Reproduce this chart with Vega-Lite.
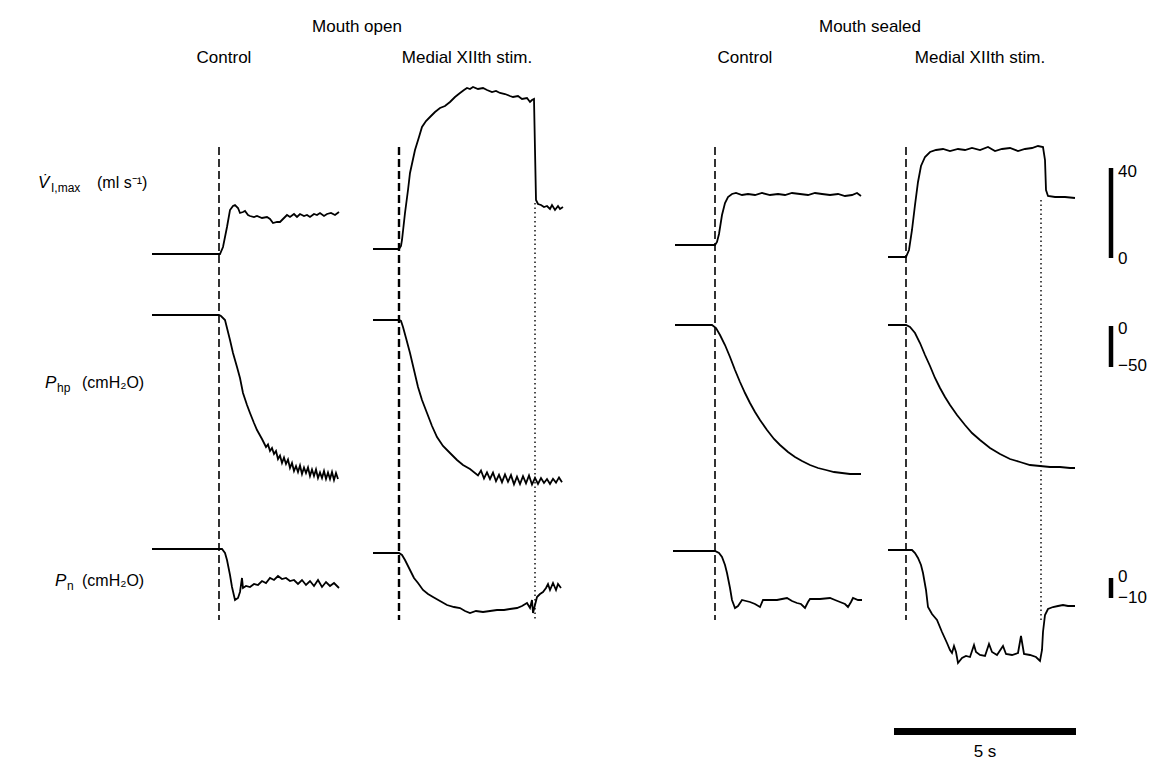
{
"$schema": "https://vega.github.io/schema/vega-lite/v6.json",
"padding": 0,
"spacing": 0,
"bounds": "flush",
"config": {"view": {"stroke": null}, "font": "Liberation Sans", "text": {"font": "Liberation Sans", "fontSize": 16, "color": "black", "fill": "black"}},
"resolve": {"scale": {"x": "independent", "y": "independent"}},
"datasets": {
"c1_flow": [{"t":-1.8407,"value":1.778},{"t":-1.2088,"value":1.778},{"t":-0.522,"value":1.778},{"t":0,"value":1.778},{"t":0.0275,"value":1.778},{"t":0.1099,"value":4.889},{"t":0.2198,"value":13.778},{"t":0.3022,"value":21.333},{"t":0.3846,"value":23.111},{"t":0.4396,"value":23.556},{"t":0.522,"value":22.222},{"t":0.5769,"value":20.0},{"t":0.6593,"value":20.444},{"t":0.7143,"value":20.889},{"t":0.7967,"value":19.111},{"t":0.8516,"value":18.667},{"t":0.9615,"value":18.222},{"t":1.044,"value":18.667},{"t":1.1813,"value":17.778},{"t":1.3187,"value":18.222},{"t":1.4011,"value":17.333},{"t":1.4835,"value":15.556},{"t":1.5934,"value":16.0},{"t":1.6758,"value":16.0},{"t":1.7857,"value":17.778},{"t":1.8681,"value":19.111},{"t":1.9505,"value":18.222},{"t":2.0604,"value":19.556},{"t":2.1429,"value":18.222},{"t":2.2253,"value":19.556},{"t":2.3352,"value":18.667},{"t":2.4176,"value":19.111},{"t":2.5,"value":18.222},{"t":2.6099,"value":19.556},{"t":2.6923,"value":19.111},{"t":2.7747,"value":20.0},{"t":2.8846,"value":18.667},{"t":2.967,"value":19.556},{"t":3.0769,"value":20.0},{"t":3.1868,"value":19.111},{"t":3.2967,"value":20.444}],
"c1_php": [{"t":-1.8407,"value":13.415},{"t":0,"value":13.415},{"t":0.0549,"value":12.195},{"t":0.1648,"value":7.317},{"t":0.3022,"value":-17.073},{"t":0.3846,"value":-32.927},{"t":0.4945,"value":-50.0},{"t":0.5769,"value":-63.415},{"t":0.6593,"value":-81.707},{"t":0.7692,"value":-96.341},{"t":0.8516,"value":-106.098},{"t":0.9615,"value":-118.293},{"t":1.044,"value":-126.829},{"t":1.1813,"value":-137.805},{"t":1.2912,"value":-147.561},{"t":1.3462,"value":-144.512},{"t":1.4011,"value":-152.439},{"t":1.456,"value":-148.78},{"t":1.511,"value":-156.098},{"t":1.5659,"value":-152.439},{"t":1.6209,"value":-162.195},{"t":1.6758,"value":-157.927},{"t":1.7308,"value":-167.073},{"t":1.7857,"value":-160.366},{"t":1.8407,"value":-168.293},{"t":1.8956,"value":-162.805},{"t":1.9505,"value":-173.171},{"t":2.0055,"value":-167.073},{"t":2.0604,"value":-176.829},{"t":2.1154,"value":-170.732},{"t":2.1703,"value":-178.049},{"t":2.2253,"value":-170.122},{"t":2.2802,"value":-180.488},{"t":2.3352,"value":-172.561},{"t":2.3901,"value":-179.268},{"t":2.4451,"value":-172.561},{"t":2.5,"value":-182.927},{"t":2.5549,"value":-175.0},{"t":2.6099,"value":-182.927},{"t":2.6648,"value":-175.0},{"t":2.7198,"value":-185.366},{"t":2.7747,"value":-178.659},{"t":2.8297,"value":-185.366},{"t":2.8846,"value":-176.829},{"t":2.9396,"value":-186.585},{"t":2.9945,"value":-178.659},{"t":3.0495,"value":-186.585},{"t":3.1044,"value":-178.049},{"t":3.1593,"value":-187.805},{"t":3.2143,"value":-179.268},{"t":3.2692,"value":-186.585}],
"c1_pn": [{"t":-1.8407,"value":14.5},{"t":0,"value":14.5},{"t":0.0824,"value":14.5},{"t":0.1648,"value":12.5},{"t":0.2198,"value":9},{"t":0.3022,"value":1.5},{"t":0.3571,"value":-4.5},{"t":0.4396,"value":-11},{"t":0.522,"value":-10},{"t":0.5769,"value":-7},{"t":0.6319,"value":0},{"t":0.6593,"value":-5},{"t":0.7418,"value":-4},{"t":0.8516,"value":-4.5},{"t":0.9615,"value":-3},{"t":1.0714,"value":-3.5},{"t":1.1813,"value":-1.5},{"t":1.2912,"value":-2.5},{"t":1.4011,"value":0},{"t":1.511,"value":-1},{"t":1.6209,"value":1},{"t":1.7308,"value":-0.5},{"t":1.8407,"value":0},{"t":1.9505,"value":-1.5},{"t":2.0604,"value":-1},{"t":2.1703,"value":-3},{"t":2.2802,"value":-1},{"t":2.3901,"value":-3.5},{"t":2.5,"value":-1.5},{"t":2.6099,"value":-4},{"t":2.7198,"value":-1},{"t":2.8297,"value":-4.5},{"t":2.9396,"value":-2},{"t":3.0495,"value":-4},{"t":3.1593,"value":-2.5},{"t":3.2967,"value":-5}],
"c2_flow": [{"t":-0.7143,"value":4.0},{"t":-0.3846,"value":4.0},{"t":0,"value":4.0},{"t":0.0549,"value":5.333},{"t":0.0824,"value":8.0},{"t":0.1648,"value":20.0},{"t":0.2473,"value":30.222},{"t":0.3022,"value":37.778},{"t":0.4396,"value":48.0},{"t":0.5495,"value":53.778},{"t":0.6319,"value":58.222},{"t":0.7418,"value":60.889},{"t":0.8516,"value":62.667},{"t":0.989,"value":64.889},{"t":1.1264,"value":66.667},{"t":1.2637,"value":67.556},{"t":1.4011,"value":69.333},{"t":1.5385,"value":71.556},{"t":1.6758,"value":73.333},{"t":1.7857,"value":74.667},{"t":1.8681,"value":75.556},{"t":1.9505,"value":75.111},{"t":2.033,"value":76.0},{"t":2.1703,"value":75.111},{"t":2.3077,"value":75.556},{"t":2.4176,"value":74.667},{"t":2.5549,"value":73.778},{"t":2.6648,"value":74.222},{"t":2.7747,"value":73.333},{"t":2.9121,"value":72.889},{"t":3.0495,"value":72.0},{"t":3.1319,"value":71.556},{"t":3.2692,"value":72.0},{"t":3.3791,"value":70.667},{"t":3.5165,"value":71.111},{"t":3.5989,"value":69.333},{"t":3.6538,"value":70.222},{"t":3.7088,"value":70.667},{"t":3.7363,"value":48.0},{"t":3.7637,"value":25.778},{"t":3.8187,"value":24.0},{"t":3.9011,"value":23.556},{"t":3.9835,"value":22.667},{"t":4.0659,"value":23.111},{"t":4.1484,"value":21.778},{"t":4.2033,"value":23.556},{"t":4.2857,"value":21.333},{"t":4.3681,"value":23.111},{"t":4.4231,"value":21.778},{"t":4.5055,"value":22.667}],
"c2_php": [{"t":-0.7143,"value":7.317},{"t":0,"value":7.317},{"t":0.0549,"value":6.098},{"t":0.1099,"value":-1.22},{"t":0.1923,"value":-14.634},{"t":0.3022,"value":-32.927},{"t":0.4121,"value":-53.659},{"t":0.522,"value":-74.39},{"t":0.6319,"value":-90.244},{"t":0.7692,"value":-106.098},{"t":0.9066,"value":-121.951},{"t":1.044,"value":-135.366},{"t":1.2088,"value":-146.341},{"t":1.4011,"value":-154.878},{"t":1.5934,"value":-163.415},{"t":1.7582,"value":-169.512},{"t":1.9505,"value":-174.39},{"t":2.1703,"value":-182.317},{"t":2.2527,"value":-176.22},{"t":2.3352,"value":-185.976},{"t":2.4176,"value":-178.415},{"t":2.5,"value":-186.585},{"t":2.5824,"value":-178.78},{"t":2.6648,"value":-189.268},{"t":2.7473,"value":-181.463},{"t":2.8297,"value":-190.488},{"t":2.9121,"value":-181.098},{"t":2.9945,"value":-190.0},{"t":3.0769,"value":-181.829},{"t":3.1593,"value":-193.171},{"t":3.2418,"value":-183.78},{"t":3.3242,"value":-192.683},{"t":3.4066,"value":-183.171},{"t":3.489,"value":-191.829},{"t":3.5714,"value":-182.317},{"t":3.6538,"value":-193.415},{"t":3.7363,"value":-185.122},{"t":3.8187,"value":-192.683},{"t":3.9011,"value":-185.366},{"t":3.9835,"value":-191.463},{"t":4.0659,"value":-186.585},{"t":4.1484,"value":-192.683},{"t":4.2308,"value":-186.341},{"t":4.3132,"value":-190.976},{"t":4.3956,"value":-184.634},{"t":4.478,"value":-190.488}],
"c2_pn": [{"t":-0.7143,"value":12.5},{"t":0,"value":12.5},{"t":0.0824,"value":11.5},{"t":0.1648,"value":9},{"t":0.2473,"value":6},{"t":0.3297,"value":3},{"t":0.4121,"value":0},{"t":0.522,"value":-2.5},{"t":0.6593,"value":-6},{"t":0.7967,"value":-8},{"t":0.9341,"value":-9.5},{"t":1.1264,"value":-11.5},{"t":1.3187,"value":-13.5},{"t":1.511,"value":-14.5},{"t":1.6758,"value":-15},{"t":1.8132,"value":-16.5},{"t":1.9505,"value":-17.5},{"t":2.1154,"value":-16.5},{"t":2.3077,"value":-17},{"t":2.5,"value":-16.5},{"t":2.6923,"value":-16},{"t":2.8846,"value":-16},{"t":3.0495,"value":-15.5},{"t":3.2418,"value":-15},{"t":3.3791,"value":-14},{"t":3.5165,"value":-12.5},{"t":3.5989,"value":-15},{"t":3.6538,"value":-11},{"t":3.6813,"value":-17.5},{"t":3.7363,"value":-13.5},{"t":3.7912,"value":-9.5},{"t":3.8736,"value":-8},{"t":3.956,"value":-7},{"t":4.0385,"value":-5},{"t":4.0934,"value":-3},{"t":4.1484,"value":-6},{"t":4.2308,"value":-2.5},{"t":4.3132,"value":-6},{"t":4.3681,"value":-3},{"t":4.4505,"value":-5}],
"c3_flow": [{"t":-1.0989,"value":5.778},{"t":-0.4121,"value":5.778},{"t":0,"value":5.778},{"t":0.0549,"value":7.111},{"t":0.1099,"value":10.667},{"t":0.1923,"value":19.111},{"t":0.2747,"value":24.444},{"t":0.3571,"value":27.111},{"t":0.467,"value":28.444},{"t":0.5769,"value":28.889},{"t":0.7418,"value":28.0},{"t":0.9066,"value":28.444},{"t":1.0989,"value":28.0},{"t":1.2912,"value":28.889},{"t":1.511,"value":28.0},{"t":1.7308,"value":28.444},{"t":1.9231,"value":28.0},{"t":2.1154,"value":28.889},{"t":2.3352,"value":28.444},{"t":2.5549,"value":28.0},{"t":2.7473,"value":28.889},{"t":2.9396,"value":28.444},{"t":3.1593,"value":28.0},{"t":3.3791,"value":28.444},{"t":3.5714,"value":27.556},{"t":3.7637,"value":28.0},{"t":3.9011,"value":28.889},{"t":4.011,"value":27.556}],
"c3_php": [{"t":-1.0989,"value":1.22},{"t":-0.0824,"value":1.22},{"t":0.0275,"value":-2.439},{"t":0.1374,"value":-10.976},{"t":0.2747,"value":-23.171},{"t":0.4121,"value":-37.805},{"t":0.5495,"value":-53.659},{"t":0.6868,"value":-68.293},{"t":0.8242,"value":-81.707},{"t":0.9615,"value":-93.902},{"t":1.0989,"value":-104.878},{"t":1.2363,"value":-114.634},{"t":1.4286,"value":-126.829},{"t":1.6209,"value":-137.805},{"t":1.7857,"value":-145.122},{"t":2.0055,"value":-153.659},{"t":2.1978,"value":-159.756},{"t":2.3901,"value":-164.634},{"t":2.6099,"value":-169.512},{"t":2.8297,"value":-173.171},{"t":3.0495,"value":-175.61},{"t":3.2692,"value":-178.049},{"t":3.489,"value":-179.268},{"t":3.7088,"value":-180.488},{"t":4.011,"value":-180.488}],
"c3_pn": [{"t":-1.1538,"value":13.5},{"t":-0.4121,"value":13.5},{"t":0,"value":13.5},{"t":0.1099,"value":12.5},{"t":0.1923,"value":10.5},{"t":0.2747,"value":6.5},{"t":0.3297,"value":2.5},{"t":0.4121,"value":-5},{"t":0.467,"value":-11},{"t":0.5495,"value":-15},{"t":0.6319,"value":-14},{"t":0.7418,"value":-11},{"t":0.8516,"value":-11.5},{"t":0.9615,"value":-12},{"t":1.0989,"value":-13},{"t":1.2363,"value":-14.5},{"t":1.3187,"value":-11},{"t":1.511,"value":-11},{"t":1.7033,"value":-11},{"t":1.8407,"value":-10.5},{"t":1.978,"value":-10},{"t":2.1154,"value":-11.5},{"t":2.2527,"value":-12.5},{"t":2.3626,"value":-13},{"t":2.4725,"value":-15},{"t":2.5549,"value":-12},{"t":2.6099,"value":-10.5},{"t":2.8846,"value":-10.5},{"t":3.1593,"value":-10},{"t":3.2967,"value":-11},{"t":3.4341,"value":-12},{"t":3.5714,"value":-13},{"t":3.6538,"value":-14.5},{"t":3.7363,"value":-12},{"t":3.7912,"value":-10},{"t":3.9286,"value":-11},{"t":4.0385,"value":-11}],
"c4_flow": [{"t":-0.4945,"value":0.444},{"t":-0.1648,"value":0.444},{"t":0,"value":0.444},{"t":0.0824,"value":3.556},{"t":0.1648,"value":12.444},{"t":0.2473,"value":23.556},{"t":0.3297,"value":33.778},{"t":0.4121,"value":40.889},{"t":0.522,"value":44.889},{"t":0.6593,"value":47.111},{"t":0.8242,"value":48.0},{"t":1.0165,"value":48.444},{"t":1.2088,"value":47.556},{"t":1.4286,"value":48.444},{"t":1.6209,"value":48.0},{"t":1.8132,"value":48.889},{"t":2.033,"value":48.0},{"t":2.2527,"value":49.333},{"t":2.4451,"value":47.556},{"t":2.6374,"value":48.444},{"t":2.8571,"value":48.889},{"t":3.0769,"value":47.556},{"t":3.2692,"value":48.444},{"t":3.4615,"value":48.889},{"t":3.6264,"value":49.778},{"t":3.7637,"value":49.333},{"t":3.8187,"value":43.556},{"t":3.8462,"value":30.222},{"t":3.9011,"value":27.556},{"t":4.0934,"value":27.111},{"t":4.3681,"value":27.111},{"t":4.6429,"value":26.667}],
"c4_php": [{"t":-0.4945,"value":1.22},{"t":0,"value":1.22},{"t":0.1099,"value":-1.22},{"t":0.2473,"value":-8.537},{"t":0.3846,"value":-20.732},{"t":0.522,"value":-35.366},{"t":0.6593,"value":-48.78},{"t":0.7967,"value":-63.415},{"t":0.9341,"value":-75.61},{"t":1.0714,"value":-86.585},{"t":1.2088,"value":-96.341},{"t":1.4011,"value":-108.537},{"t":1.6209,"value":-120.732},{"t":1.8132,"value":-130.488},{"t":2.033,"value":-139.024},{"t":2.3077,"value":-148.78},{"t":2.5824,"value":-156.098},{"t":2.8571,"value":-162.195},{"t":3.1319,"value":-165.854},{"t":3.4066,"value":-169.512},{"t":3.6813,"value":-170.732},{"t":3.956,"value":-171.951},{"t":4.2308,"value":-171.951},{"t":4.5055,"value":-173.171},{"t":4.6429,"value":-173.171}],
"c4_pn": [{"t":-0.4945,"value":14},{"t":0,"value":14},{"t":0.1648,"value":14},{"t":0.2473,"value":12.5},{"t":0.3297,"value":10},{"t":0.4121,"value":6.5},{"t":0.467,"value":2.5},{"t":0.5495,"value":-6},{"t":0.6044,"value":-14.5},{"t":0.7143,"value":-18},{"t":0.8516,"value":-21},{"t":0.989,"value":-27},{"t":1.1264,"value":-32.5},{"t":1.2088,"value":-36},{"t":1.2637,"value":-37.5},{"t":1.3187,"value":-34},{"t":1.3736,"value":-37},{"t":1.4286,"value":-42.5},{"t":1.5385,"value":-40},{"t":1.6484,"value":-39},{"t":1.7582,"value":-39.5},{"t":1.8681,"value":-33.5},{"t":1.9231,"value":-37},{"t":2.033,"value":-38.5},{"t":2.1703,"value":-39},{"t":2.2802,"value":-33},{"t":2.3626,"value":-37},{"t":2.5,"value":-38.5},{"t":2.6648,"value":-34},{"t":2.7473,"value":-38},{"t":2.9121,"value":-38.5},{"t":3.0769,"value":-37.5},{"t":3.1593,"value":-29},{"t":3.2418,"value":-38},{"t":3.4066,"value":-38.5},{"t":3.5714,"value":-39.5},{"t":3.6813,"value":-41.5},{"t":3.7363,"value":-36},{"t":3.7637,"value":-27},{"t":3.8187,"value":-18.5},{"t":3.9011,"value":-15.5},{"t":4.0385,"value":-14.5},{"t":4.1758,"value":-14},{"t":4.3132,"value":-13.5},{"t":4.4505,"value":-14},{"t":4.6429,"value":-14}]
},
"hconcat": [
{
"width": 365, "height": 762,
"resolve": {"scale": {"y": "independent"}},
"layer": [
{"data": {"name": "c1_flow"}, "mark": {"type": "line", "color": "black", "strokeWidth": 1.8}, "encoding": {"x": {"field": "t", "type": "quantitative", "scale": {"domain": [-6.01648, 4.01099], "nice": false, "zero": false}, "axis": null}, "y": {"field": "value", "type": "quantitative", "scale": {"domain": [-224, 114.6667], "nice": false, "zero": false}, "axis": null}}},
{"data": {"name": "c1_php"}, "mark": {"type": "line", "color": "black", "strokeWidth": 1.8}, "encoding": {"x": {"field": "t", "type": "quantitative", "scale": {"domain": [-6.01648, 4.01099], "nice": false, "zero": false}, "axis": null}, "y": {"field": "value", "type": "quantitative", "scale": {"domain": [-531.7073, 397.561], "nice": false, "zero": false}, "axis": null}}},
{"data": {"name": "c1_pn"}, "mark": {"type": "line", "color": "black", "strokeWidth": 1.8}, "encoding": {"x": {"field": "t", "type": "quantitative", "scale": {"domain": [-6.01648, 4.01099], "nice": false, "zero": false}, "axis": null}, "y": {"field": "value", "type": "quantitative", "scale": {"domain": [-92, 289], "nice": false, "zero": false}, "axis": null}}},
{"data": {"values": [{"event": "stimulation onset"}]}, "mark": {"type": "rule", "color": "black", "strokeWidth": 1.6, "strokeDash": [8, 4]}, "encoding": {"x": {"datum": 0, "type": "quantitative", "scale": {"domain": [-6.01648, 4.01099], "nice": false, "zero": false}, "axis": null}, "y": {"datum": 49.333, "type": "quantitative", "scale": {"domain": [-224, 114.6667], "nice": false, "zero": false}, "axis": null}, "y2": {"datum": -160.889}}},
{"data": {"values": [{"label": "Mouth open"}]}, "mark": {"type": "text", "align": "center", "baseline": "middle", "fontSize": 17, "color": "black"}, "encoding": {"x": {"datum": 3.7912, "type": "quantitative", "scale": {"domain": [-6.01648, 4.01099], "nice": false, "zero": false}, "axis": null}, "y": {"datum": 102.667, "type": "quantitative", "scale": {"domain": [-224, 114.6667], "nice": false, "zero": false}, "axis": null}, "text": {"field": "label"}}},
{"data": {"values": [{"label": "Control"}]}, "mark": {"type": "text", "align": "center", "baseline": "middle", "fontSize": 17, "color": "black"}, "encoding": {"x": {"datum": 0.1374, "type": "quantitative", "scale": {"domain": [-6.01648, 4.01099], "nice": false, "zero": false}, "axis": null}, "y": {"datum": 88.889, "type": "quantitative", "scale": {"domain": [-224, 114.6667], "nice": false, "zero": false}, "axis": null}, "text": {"field": "label"}}},
{"data": {"values": [{"label": "V\u0307"}]}, "mark": {"type": "text", "align": "left", "baseline": "alphabetic", "fontSize": 17, "fontStyle": "italic", "color": "black"}, "encoding": {"x": {"datum": -4.9725, "type": "quantitative", "scale": {"domain": [-6.01648, 4.01099], "nice": false, "zero": false}, "axis": null}, "y": {"datum": 31.111, "type": "quantitative", "scale": {"domain": [-224, 114.6667], "nice": false, "zero": false}, "axis": null}, "text": {"field": "label"}}},
{"data": {"values": [{"label": "I,max"}]}, "mark": {"type": "text", "align": "left", "baseline": "alphabetic", "fontSize": 12, "color": "black"}, "encoding": {"x": {"datum": -4.6154, "type": "quantitative", "scale": {"domain": [-6.01648, 4.01099], "nice": false, "zero": false}, "axis": null}, "y": {"datum": 29.333, "type": "quantitative", "scale": {"domain": [-224, 114.6667], "nice": false, "zero": false}, "axis": null}, "text": {"field": "label"}}},
{"data": {"values": [{"label": "(ml s\u207b\u00b9)"}]}, "mark": {"type": "text", "align": "left", "baseline": "alphabetic", "fontSize": 16, "color": "black"}, "encoding": {"x": {"datum": -3.3516, "type": "quantitative", "scale": {"domain": [-6.01648, 4.01099], "nice": false, "zero": false}, "axis": null}, "y": {"datum": 31.111, "type": "quantitative", "scale": {"domain": [-224, 114.6667], "nice": false, "zero": false}, "axis": null}, "text": {"field": "label"}}},
{"data": {"values": [{"label": "P"}]}, "mark": {"type": "text", "align": "left", "baseline": "alphabetic", "fontSize": 17, "fontStyle": "italic", "color": "black"}, "encoding": {"x": {"datum": -4.7802, "type": "quantitative", "scale": {"domain": [-6.01648, 4.01099], "nice": false, "zero": false}, "axis": null}, "y": {"datum": -57.778, "type": "quantitative", "scale": {"domain": [-224, 114.6667], "nice": false, "zero": false}, "axis": null}, "text": {"field": "label"}}},
{"data": {"values": [{"label": "hp"}]}, "mark": {"type": "text", "align": "left", "baseline": "alphabetic", "fontSize": 12, "color": "black"}, "encoding": {"x": {"datum": -4.4505, "type": "quantitative", "scale": {"domain": [-6.01648, 4.01099], "nice": false, "zero": false}, "axis": null}, "y": {"datum": -59.556, "type": "quantitative", "scale": {"domain": [-224, 114.6667], "nice": false, "zero": false}, "axis": null}, "text": {"field": "label"}}},
{"data": {"values": [{"label": "(cmH\u2082O)"}]}, "mark": {"type": "text", "align": "left", "baseline": "alphabetic", "fontSize": 16, "color": "black"}, "encoding": {"x": {"datum": -3.7637, "type": "quantitative", "scale": {"domain": [-6.01648, 4.01099], "nice": false, "zero": false}, "axis": null}, "y": {"datum": -57.778, "type": "quantitative", "scale": {"domain": [-224, 114.6667], "nice": false, "zero": false}, "axis": null}, "text": {"field": "label"}}},
{"data": {"values": [{"label": "P"}]}, "mark": {"type": "text", "align": "left", "baseline": "alphabetic", "fontSize": 17, "fontStyle": "italic", "color": "black"}, "encoding": {"x": {"datum": -4.5055, "type": "quantitative", "scale": {"domain": [-6.01648, 4.01099], "nice": false, "zero": false}, "axis": null}, "y": {"datum": -145.778, "type": "quantitative", "scale": {"domain": [-224, 114.6667], "nice": false, "zero": false}, "axis": null}, "text": {"field": "label"}}},
{"data": {"values": [{"label": "n"}]}, "mark": {"type": "text", "align": "left", "baseline": "alphabetic", "fontSize": 12, "color": "black"}, "encoding": {"x": {"datum": -4.1758, "type": "quantitative", "scale": {"domain": [-6.01648, 4.01099], "nice": false, "zero": false}, "axis": null}, "y": {"datum": -147.556, "type": "quantitative", "scale": {"domain": [-224, 114.6667], "nice": false, "zero": false}, "axis": null}, "text": {"field": "label"}}},
{"data": {"values": [{"label": "(cmH\u2082O)"}]}, "mark": {"type": "text", "align": "left", "baseline": "alphabetic", "fontSize": 16, "color": "black"}, "encoding": {"x": {"datum": -3.7637, "type": "quantitative", "scale": {"domain": [-6.01648, 4.01099], "nice": false, "zero": false}, "axis": null}, "y": {"datum": -145.778, "type": "quantitative", "scale": {"domain": [-224, 114.6667], "nice": false, "zero": false}, "axis": null}, "text": {"field": "label"}}}
]
},
{
"width": 255, "height": 762,
"resolve": {"scale": {"y": "independent"}},
"layer": [
{"data": {"name": "c2_flow"}, "mark": {"type": "line", "color": "black", "strokeWidth": 1.8}, "encoding": {"x": {"field": "t", "type": "quantitative", "scale": {"domain": [-0.93407, 6.07143], "nice": false, "zero": false}, "axis": null}, "y": {"field": "value", "type": "quantitative", "scale": {"domain": [-224, 114.6667], "nice": false, "zero": false}, "axis": null}}},
{"data": {"name": "c2_php"}, "mark": {"type": "line", "color": "black", "strokeWidth": 1.8}, "encoding": {"x": {"field": "t", "type": "quantitative", "scale": {"domain": [-0.93407, 6.07143], "nice": false, "zero": false}, "axis": null}, "y": {"field": "value", "type": "quantitative", "scale": {"domain": [-531.7073, 397.561], "nice": false, "zero": false}, "axis": null}}},
{"data": {"name": "c2_pn"}, "mark": {"type": "line", "color": "black", "strokeWidth": 1.8}, "encoding": {"x": {"field": "t", "type": "quantitative", "scale": {"domain": [-0.93407, 6.07143], "nice": false, "zero": false}, "axis": null}, "y": {"field": "value", "type": "quantitative", "scale": {"domain": [-92, 289], "nice": false, "zero": false}, "axis": null}}},
{"data": {"values": [{"event": "stimulation onset"}]}, "mark": {"type": "rule", "color": "black", "strokeWidth": 2.4, "strokeDash": [8, 4]}, "encoding": {"x": {"datum": 0, "type": "quantitative", "scale": {"domain": [-0.93407, 6.07143], "nice": false, "zero": false}, "axis": null}, "y": {"datum": 49.333, "type": "quantitative", "scale": {"domain": [-224, 114.6667], "nice": false, "zero": false}, "axis": null}, "y2": {"datum": -160.889}}},
{"data": {"values": [{"event": "stimulation end"}]}, "mark": {"type": "rule", "color": "black", "strokeWidth": 1.4, "strokeDash": [1.5, 3]}, "encoding": {"x": {"datum": 3.7363, "type": "quantitative", "scale": {"domain": [-0.93407, 6.07143], "nice": false, "zero": false}, "axis": null}, "y": {"datum": 24.444, "type": "quantitative", "scale": {"domain": [-224, 114.6667], "nice": false, "zero": false}, "axis": null}, "y2": {"datum": -160.889}}},
{"data": {"values": [{"label": "Medial XIIth stim."}]}, "mark": {"type": "text", "align": "center", "baseline": "middle", "fontSize": 17, "color": "black"}, "encoding": {"x": {"datum": 1.8681, "type": "quantitative", "scale": {"domain": [-0.93407, 6.07143], "nice": false, "zero": false}, "axis": null}, "y": {"datum": 88.889, "type": "quantitative", "scale": {"domain": [-224, 114.6667], "nice": false, "zero": false}, "axis": null}, "text": {"field": "label"}}}
]
},
{
"width": 260, "height": 762,
"resolve": {"scale": {"y": "independent"}},
"layer": [
{"data": {"name": "c3_flow"}, "mark": {"type": "line", "color": "black", "strokeWidth": 1.8}, "encoding": {"x": {"field": "t", "type": "quantitative", "scale": {"domain": [-2.60989, 4.53297], "nice": false, "zero": false}, "axis": null}, "y": {"field": "value", "type": "quantitative", "scale": {"domain": [-224, 114.6667], "nice": false, "zero": false}, "axis": null}}},
{"data": {"name": "c3_php"}, "mark": {"type": "line", "color": "black", "strokeWidth": 1.8}, "encoding": {"x": {"field": "t", "type": "quantitative", "scale": {"domain": [-2.60989, 4.53297], "nice": false, "zero": false}, "axis": null}, "y": {"field": "value", "type": "quantitative", "scale": {"domain": [-531.7073, 397.561], "nice": false, "zero": false}, "axis": null}}},
{"data": {"name": "c3_pn"}, "mark": {"type": "line", "color": "black", "strokeWidth": 1.8}, "encoding": {"x": {"field": "t", "type": "quantitative", "scale": {"domain": [-2.60989, 4.53297], "nice": false, "zero": false}, "axis": null}, "y": {"field": "value", "type": "quantitative", "scale": {"domain": [-92, 289], "nice": false, "zero": false}, "axis": null}}},
{"data": {"values": [{"event": "stimulation onset"}]}, "mark": {"type": "rule", "color": "black", "strokeWidth": 1.6, "strokeDash": [8, 4]}, "encoding": {"x": {"datum": 0, "type": "quantitative", "scale": {"domain": [-2.60989, 4.53297], "nice": false, "zero": false}, "axis": null}, "y": {"datum": 49.333, "type": "quantitative", "scale": {"domain": [-224, 114.6667], "nice": false, "zero": false}, "axis": null}, "y2": {"datum": -160.889}}},
{"data": {"values": [{"label": "Mouth sealed"}]}, "mark": {"type": "text", "align": "center", "baseline": "middle", "fontSize": 17, "color": "black"}, "encoding": {"x": {"datum": 4.2582, "type": "quantitative", "scale": {"domain": [-2.60989, 4.53297], "nice": false, "zero": false}, "axis": null}, "y": {"datum": 102.667, "type": "quantitative", "scale": {"domain": [-224, 114.6667], "nice": false, "zero": false}, "axis": null}, "text": {"field": "label"}}},
{"data": {"values": [{"label": "Control"}]}, "mark": {"type": "text", "align": "center", "baseline": "middle", "fontSize": 17, "color": "black"}, "encoding": {"x": {"datum": 0.8242, "type": "quantitative", "scale": {"domain": [-2.60989, 4.53297], "nice": false, "zero": false}, "axis": null}, "y": {"datum": 88.889, "type": "quantitative", "scale": {"domain": [-224, 114.6667], "nice": false, "zero": false}, "axis": null}, "text": {"field": "label"}}}
]
},
{
"width": 281, "height": 762,
"resolve": {"scale": {"y": "independent"}},
"layer": [
{"data": {"name": "c4_flow"}, "mark": {"type": "line", "color": "black", "strokeWidth": 1.8}, "encoding": {"x": {"field": "t", "type": "quantitative", "scale": {"domain": [-0.71429, 7.00549], "nice": false, "zero": false}, "axis": null}, "y": {"field": "value", "type": "quantitative", "scale": {"domain": [-224, 114.6667], "nice": false, "zero": false}, "axis": null}}},
{"data": {"name": "c4_php"}, "mark": {"type": "line", "color": "black", "strokeWidth": 1.8}, "encoding": {"x": {"field": "t", "type": "quantitative", "scale": {"domain": [-0.71429, 7.00549], "nice": false, "zero": false}, "axis": null}, "y": {"field": "value", "type": "quantitative", "scale": {"domain": [-531.7073, 397.561], "nice": false, "zero": false}, "axis": null}}},
{"data": {"name": "c4_pn"}, "mark": {"type": "line", "color": "black", "strokeWidth": 1.8}, "encoding": {"x": {"field": "t", "type": "quantitative", "scale": {"domain": [-0.71429, 7.00549], "nice": false, "zero": false}, "axis": null}, "y": {"field": "value", "type": "quantitative", "scale": {"domain": [-92, 289], "nice": false, "zero": false}, "axis": null}}},
{"data": {"values": [{"event": "stimulation onset"}]}, "mark": {"type": "rule", "color": "black", "strokeWidth": 1.6, "strokeDash": [8, 4]}, "encoding": {"x": {"datum": 0, "type": "quantitative", "scale": {"domain": [-0.71429, 7.00549], "nice": false, "zero": false}, "axis": null}, "y": {"datum": 49.333, "type": "quantitative", "scale": {"domain": [-224, 114.6667], "nice": false, "zero": false}, "axis": null}, "y2": {"datum": -160.889}}},
{"data": {"values": [{"event": "stimulation end"}]}, "mark": {"type": "rule", "color": "black", "strokeWidth": 1.4, "strokeDash": [1.5, 3]}, "encoding": {"x": {"datum": 3.7088, "type": "quantitative", "scale": {"domain": [-0.71429, 7.00549], "nice": false, "zero": false}, "axis": null}, "y": {"datum": 25.778, "type": "quantitative", "scale": {"domain": [-224, 114.6667], "nice": false, "zero": false}, "axis": null}, "y2": {"datum": -160.889}}},
{"data": {"values": [{"label": "Medial XIIth stim."}]}, "mark": {"type": "text", "align": "center", "baseline": "middle", "fontSize": 17, "color": "black"}, "encoding": {"x": {"datum": 2.033, "type": "quantitative", "scale": {"domain": [-0.71429, 7.00549], "nice": false, "zero": false}, "axis": null}, "y": {"datum": 88.889, "type": "quantitative", "scale": {"domain": [-224, 114.6667], "nice": false, "zero": false}, "axis": null}, "text": {"field": "label"}}},
{"data": {"values": [{"bar": "40 ml/s"}]}, "mark": {"type": "rule", "color": "black", "strokeWidth": 4.5}, "encoding": {"x": {"datum": 5.6319, "type": "quantitative", "scale": {"domain": [-0.71429, 7.00549], "nice": false, "zero": false}, "axis": null}, "y": {"datum": 0, "type": "quantitative", "scale": {"domain": [-224, 114.6667], "nice": false, "zero": false}, "axis": null}, "y2": {"datum": 40}}},
{"data": {"values": [{"bar": "50 cmH2O"}]}, "mark": {"type": "rule", "color": "black", "strokeWidth": 4.5}, "encoding": {"x": {"datum": 5.6319, "type": "quantitative", "scale": {"domain": [-0.71429, 7.00549], "nice": false, "zero": false}, "axis": null}, "y": {"datum": 0, "type": "quantitative", "scale": {"domain": [-531.7073, 397.561], "nice": false, "zero": false}, "axis": null}, "y2": {"datum": -50}}},
{"data": {"values": [{"bar": "10 cmH2O"}]}, "mark": {"type": "rule", "color": "black", "strokeWidth": 4.5}, "encoding": {"x": {"datum": 5.6319, "type": "quantitative", "scale": {"domain": [-0.71429, 7.00549], "nice": false, "zero": false}, "axis": null}, "y": {"datum": 0, "type": "quantitative", "scale": {"domain": [-92, 289], "nice": false, "zero": false}, "axis": null}, "y2": {"datum": -10}}},
{"data": {"values": [{"label": "40"}]}, "mark": {"type": "text", "align": "left", "baseline": "middle", "fontSize": 17, "dy": 4, "color": "black"}, "encoding": {"x": {"datum": 5.8242, "type": "quantitative", "scale": {"domain": [-0.71429, 7.00549], "nice": false, "zero": false}, "axis": null}, "y": {"datum": 40, "type": "quantitative", "scale": {"domain": [-224, 114.6667], "nice": false, "zero": false}, "axis": null}, "text": {"field": "label"}}},
{"data": {"values": [{"label": "0"}]}, "mark": {"type": "text", "align": "left", "baseline": "middle", "fontSize": 17, "dy": 1, "color": "black"}, "encoding": {"x": {"datum": 5.8242, "type": "quantitative", "scale": {"domain": [-0.71429, 7.00549], "nice": false, "zero": false}, "axis": null}, "y": {"datum": 0, "type": "quantitative", "scale": {"domain": [-224, 114.6667], "nice": false, "zero": false}, "axis": null}, "text": {"field": "label"}}},
{"data": {"values": [{"label": "0"}]}, "mark": {"type": "text", "align": "left", "baseline": "middle", "fontSize": 17, "dy": 3, "color": "black"}, "encoding": {"x": {"datum": 5.8242, "type": "quantitative", "scale": {"domain": [-0.71429, 7.00549], "nice": false, "zero": false}, "axis": null}, "y": {"datum": 0, "type": "quantitative", "scale": {"domain": [-531.7073, 397.561], "nice": false, "zero": false}, "axis": null}, "text": {"field": "label"}}},
{"data": {"values": [{"label": "\u221250"}]}, "mark": {"type": "text", "align": "left", "baseline": "middle", "fontSize": 17, "dy": -1, "color": "black"}, "encoding": {"x": {"datum": 5.8242, "type": "quantitative", "scale": {"domain": [-0.71429, 7.00549], "nice": false, "zero": false}, "axis": null}, "y": {"datum": -50, "type": "quantitative", "scale": {"domain": [-531.7073, 397.561], "nice": false, "zero": false}, "axis": null}, "text": {"field": "label"}}},
{"data": {"values": [{"label": "0"}]}, "mark": {"type": "text", "align": "left", "baseline": "middle", "fontSize": 17, "dy": -1, "color": "black"}, "encoding": {"x": {"datum": 5.8242, "type": "quantitative", "scale": {"domain": [-0.71429, 7.00549], "nice": false, "zero": false}, "axis": null}, "y": {"datum": 0, "type": "quantitative", "scale": {"domain": [-92, 289], "nice": false, "zero": false}, "axis": null}, "text": {"field": "label"}}},
{"data": {"values": [{"label": "\u221210"}]}, "mark": {"type": "text", "align": "left", "baseline": "middle", "fontSize": 17, "dy": 0, "color": "black"}, "encoding": {"x": {"datum": 5.8242, "type": "quantitative", "scale": {"domain": [-0.71429, 7.00549], "nice": false, "zero": false}, "axis": null}, "y": {"datum": -10, "type": "quantitative", "scale": {"domain": [-92, 289], "nice": false, "zero": false}, "axis": null}, "text": {"field": "label"}}},
{"data": {"values": [{"bar": "5 s"}]}, "mark": {"type": "rule", "color": "black", "strokeWidth": 7}, "encoding": {"x": {"datum": -0.3297, "type": "quantitative", "scale": {"domain": [-0.71429, 7.00549], "nice": false, "zero": false}, "axis": null}, "x2": {"datum": 4.6703}, "y": {"datum": -76.75, "type": "quantitative", "scale": {"domain": [-92, 289], "nice": false, "zero": false}, "axis": null}}},
{"data": {"values": [{"label": "5 s"}]}, "mark": {"type": "text", "align": "center", "baseline": "middle", "fontSize": 17, "color": "black"}, "encoding": {"x": {"datum": 2.1703, "type": "quantitative", "scale": {"domain": [-0.71429, 7.00549], "nice": false, "zero": false}, "axis": null}, "y": {"datum": -87, "type": "quantitative", "scale": {"domain": [-92, 289], "nice": false, "zero": false}, "axis": null}, "text": {"field": "label"}}}
]
}
]
}
